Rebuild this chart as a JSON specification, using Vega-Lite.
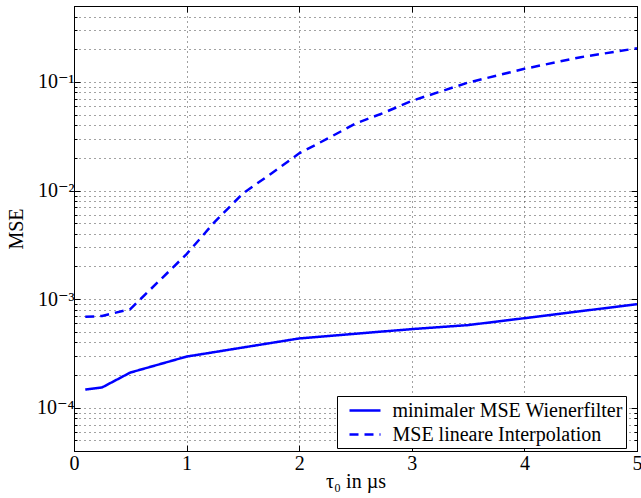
{
  "$schema": "https://vega.github.io/schema/vega-lite/v6.json",
  "width": 563,
  "height": 445,
  "autosize": {"type": "none"},
  "padding": {"left": 74, "top": 6, "right": 4, "bottom": 47},
  "background": "white",
  "config": {
    "font": "'Liberation Serif', 'Times New Roman', Times, 'DejaVu Serif', serif",
    "view": {"stroke": "black", "strokeWidth": 1},
    "axis": {
      "domainColor": "black",
      "tickColor": "black",
      "labelColor": "black",
      "titleColor": "black",
      "labelFont": "'Liberation Serif', 'Times New Roman', Times, 'DejaVu Serif', serif",
      "titleFont": "'Liberation Serif', 'Times New Roman', Times, 'DejaVu Serif', serif",
      "labelFontSize": 20,
      "titleFontSize": 20,
      "titleFontWeight": "normal",
      "gridColor": "#444",
      "gridDash": [1, 4],
      "gridWidth": 1
    },
    "legend": {
      "orient": "none",
      "legendX": 263,
      "legendY": 390,
      "direction": "vertical",
      "strokeColor": "black",
      "fillColor": "white",
      "padding": 3,
      "symbolOffset": 13.5,
      "symbolType": "M-1.55,0H1.55",
      "symbolSize": 400,
      "symbolStrokeWidth": 2.5,
      "labelFont": "'Liberation Serif', 'Times New Roman', Times, 'DejaVu Serif', serif",
      "labelFontSize": 20,
      "labelColor": "black",
      "labelLimit": 400,
      "labelOffset": 16,
      "rowPadding": 2,
      "cornerRadius": 0
    }
  },
  "data": {
    "values": [
      {"tau": 0.1, "mse": 0.000147, "series": "minimaler MSE Wienerfilter"},
      {"tau": 0.25, "mse": 0.000154, "series": "minimaler MSE Wienerfilter"},
      {"tau": 0.5, "mse": 0.000211, "series": "minimaler MSE Wienerfilter"},
      {"tau": 1, "mse": 0.000296, "series": "minimaler MSE Wienerfilter"},
      {"tau": 2, "mse": 0.000435, "series": "minimaler MSE Wienerfilter"},
      {"tau": 3, "mse": 0.00053, "series": "minimaler MSE Wienerfilter"},
      {"tau": 3.5, "mse": 0.000577, "series": "minimaler MSE Wienerfilter"},
      {"tau": 4, "mse": 0.000668, "series": "minimaler MSE Wienerfilter"},
      {"tau": 5, "mse": 0.000899, "series": "minimaler MSE Wienerfilter"},
      {"tau": 0.1, "mse": 0.000687, "series": "MSE lineare Interpolation"},
      {"tau": 0.25, "mse": 0.0007, "series": "MSE lineare Interpolation"},
      {"tau": 0.5, "mse": 0.00081, "series": "MSE lineare Interpolation"},
      {"tau": 1, "mse": 0.0026, "series": "MSE lineare Interpolation"},
      {"tau": 1.25, "mse": 0.00515, "series": "MSE lineare Interpolation"},
      {"tau": 1.5, "mse": 0.0094, "series": "MSE lineare Interpolation"},
      {"tau": 1.75, "mse": 0.0143, "series": "MSE lineare Interpolation"},
      {"tau": 2, "mse": 0.022, "series": "MSE lineare Interpolation"},
      {"tau": 2.25, "mse": 0.030, "series": "MSE lineare Interpolation"},
      {"tau": 2.5, "mse": 0.0414, "series": "MSE lineare Interpolation"},
      {"tau": 2.75, "mse": 0.0519, "series": "MSE lineare Interpolation"},
      {"tau": 3, "mse": 0.067, "series": "MSE lineare Interpolation"},
      {"tau": 3.5, "mse": 0.0986, "series": "MSE lineare Interpolation"},
      {"tau": 4, "mse": 0.132, "series": "MSE lineare Interpolation"},
      {"tau": 4.5, "mse": 0.169, "series": "MSE lineare Interpolation"},
      {"tau": 5, "mse": 0.204, "series": "MSE lineare Interpolation"}
    ]
  },
  "layer": [
    {
      "mark": {"type": "line", "strokeWidth": 2.5, "clip": true},
      "encoding": {
        "x": {
          "field": "tau",
          "type": "quantitative",
          "scale": {"domain": [0, 5], "nice": false, "zero": false},
          "axis": {
            "orient": "bottom",
            "title": "τ₀ in µs",
            "values": [0, 1, 2, 3, 4, 5],
            "format": "d",
            "tickSize": -6,
            "labelPadding": 8,
            "titlePadding": -2,
            "grid": true,
            "labelFlush": false
          }
        },
        "y": {
          "field": "mse",
          "type": "quantitative",
          "scale": {"type": "log", "domain": [0.00004, 0.5], "nice": false},
          "axis": {
            "orient": "left",
            "title": "MSE",
            "values": [0.00004, 0.00005, 0.00006, 0.00007, 0.00008, 0.00009, 0.0001, 0.0002, 0.0003, 0.0004, 0.0005, 0.0006, 0.0007, 0.0008, 0.0009, 0.001, 0.002, 0.003, 0.004, 0.005, 0.006, 0.007, 0.008, 0.009, 0.01, 0.02, 0.03, 0.04, 0.05, 0.06, 0.07, 0.08, 0.09, 0.1, 0.2, 0.3, 0.4, 0.5],
            "labelExpr": "datum.value == 0.1 ? '10⁻¹' : datum.value == 0.01 ? '10⁻²' : datum.value == 0.001 ? '10⁻³' : datum.value == 0.0001 ? '10⁻⁴' : ''",
            "tickSize": {"condition": {"test": "datum.value == 0.1 || datum.value == 0.01 || datum.value == 0.001 || datum.value == 0.0001", "value": -6}, "value": -3},
            "labelPadding": 6,
            "titlePadding": 10,
            "grid": true,
            "labelFlush": false,
            "labelOverlap": false
          }
        },
        "color": {
          "field": "series",
          "type": "nominal",
          "scale": {"domain": ["minimaler MSE Wienerfilter", "MSE lineare Interpolation"], "range": ["#0000ff", "#0000ff"]},
          "legend": {"title": null}
        },
        "strokeDash": {
          "field": "series",
          "type": "nominal",
          "scale": {"domain": ["minimaler MSE Wienerfilter", "MSE lineare Interpolation"], "range": [[1, 0], [9, 6]]},
          "legend": {"title": null}
        }
      }
    },
    {
      "mark": {"type": "line", "opacity": 0},
      "encoding": {
        "x": {
          "field": "tau",
          "type": "quantitative",
          "scale": {"domain": [0, 5], "nice": false, "zero": false},
          "axis": {"orient": "top", "title": null, "labels": false, "values": [0, 1, 2, 3, 4, 5], "tickSize": -6, "grid": false}
        },
        "y": {
          "field": "mse",
          "type": "quantitative",
          "scale": {"type": "log", "domain": [0.00004, 0.5], "nice": false},
          "axis": {
            "orient": "right",
            "title": null,
            "labels": false,
            "grid": false,
            "values": [0.00004, 0.00005, 0.00006, 0.00007, 0.00008, 0.00009, 0.0001, 0.0002, 0.0003, 0.0004, 0.0005, 0.0006, 0.0007, 0.0008, 0.0009, 0.001, 0.002, 0.003, 0.004, 0.005, 0.006, 0.007, 0.008, 0.009, 0.01, 0.02, 0.03, 0.04, 0.05, 0.06, 0.07, 0.08, 0.09, 0.1, 0.2, 0.3, 0.4, 0.5],
            "tickSize": {"condition": {"test": "datum.value == 0.1 || datum.value == 0.01 || datum.value == 0.001 || datum.value == 0.0001", "value": -6}, "value": -3}
          }
        },
        "detail": {"field": "series", "type": "nominal"}
      }
    }
  ],
  "resolve": {"axis": {"x": "independent", "y": "independent"}}
}
